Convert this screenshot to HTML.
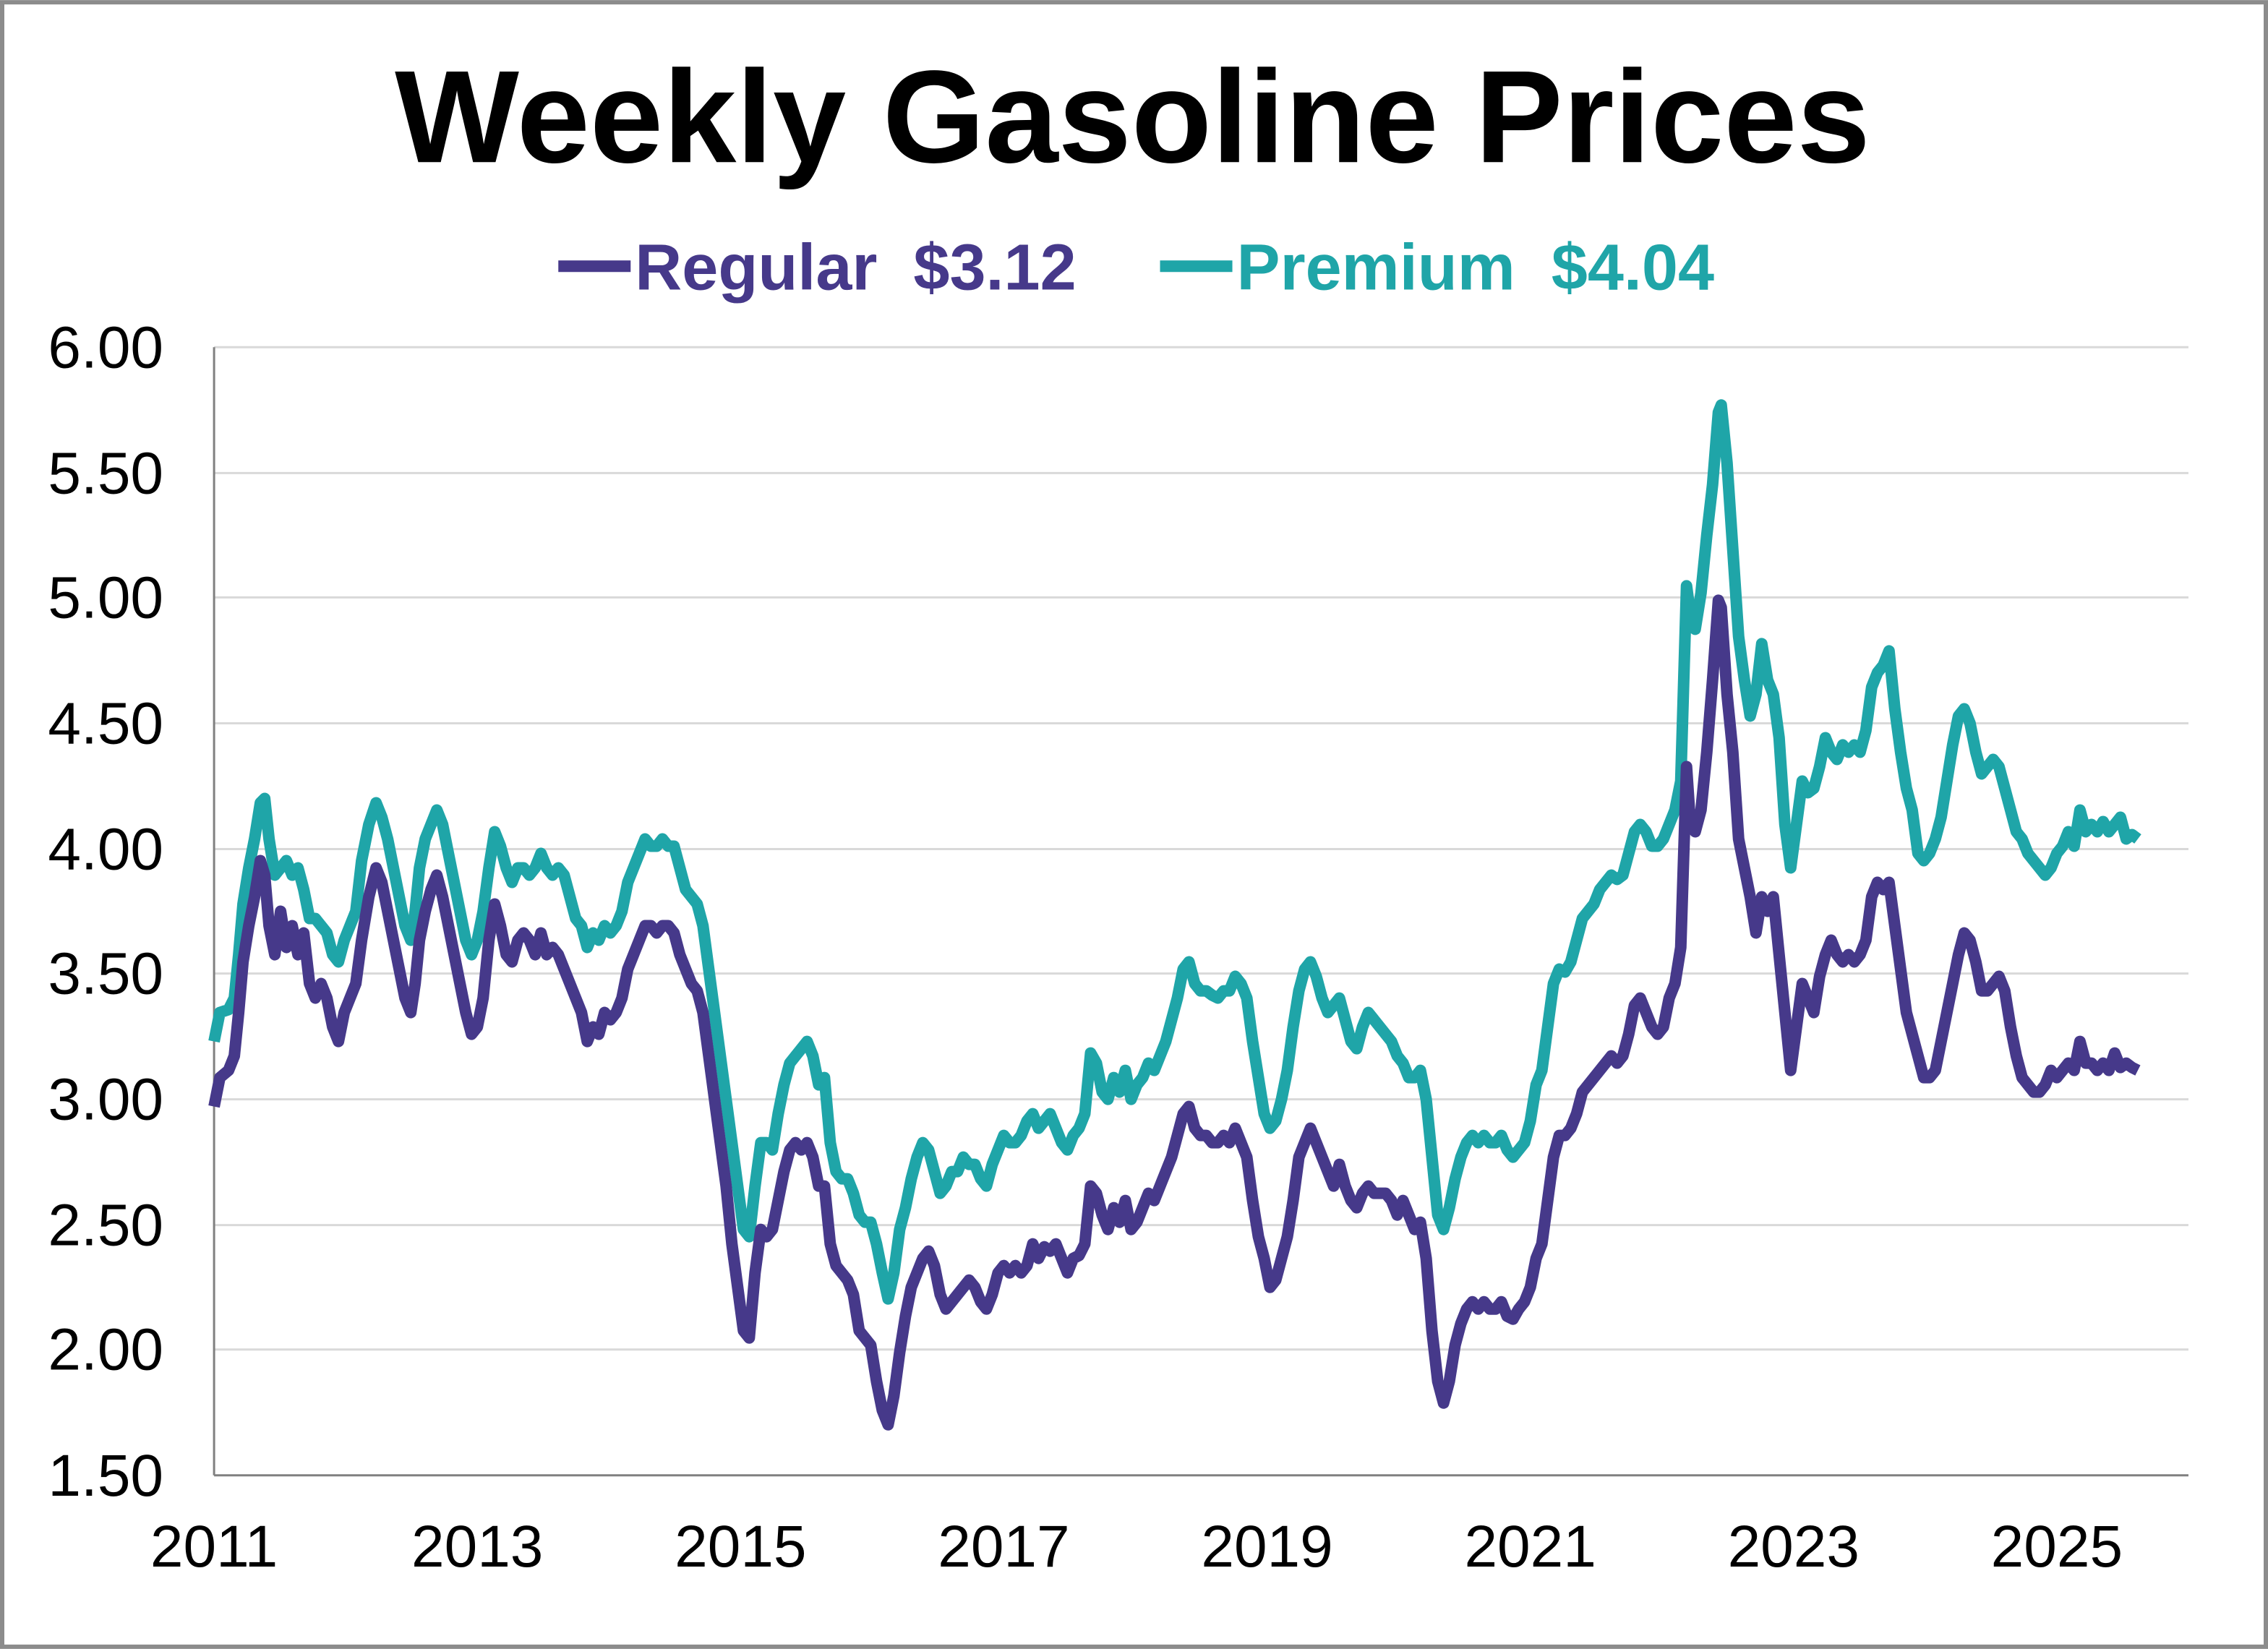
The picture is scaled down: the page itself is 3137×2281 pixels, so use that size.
<!DOCTYPE html>
<html><head><meta charset="utf-8"><style>html,body{margin:0;padding:0;background:#fff}svg{display:block}</style></head>
<body>
<svg width="3137" height="2281" viewBox="0 0 1568 1140" xmlns="http://www.w3.org/2000/svg" font-family="'Liberation Sans', sans-serif">
<rect x="1.5" y="1.5" width="1565" height="1137" fill="#fff" stroke="#8c8c8c" stroke-width="3"/>
<text x="783" y="112" text-anchor="middle" font-size="91" font-weight="bold" fill="#000">Weekly Gasoline Prices</text>
<line x1="386" y1="184" x2="436" y2="184" stroke="#46398a" stroke-width="8"/>
<text x="439" y="200" font-size="45" font-weight="bold" fill="#46398a" xml:space="preserve">Regular  $3.12</text>
<line x1="802" y1="184" x2="852" y2="184" stroke="#1fa5a8" stroke-width="8"/>
<text x="855" y="200" font-size="45" font-weight="bold" fill="#1fa5a8" xml:space="preserve">Premium  $4.04</text>
<g stroke="#d9d9d9" stroke-width="1.5">
<line x1="148" y1="240" x2="1513" y2="240"/><line x1="148" y1="327" x2="1513" y2="327"/><line x1="148" y1="413" x2="1513" y2="413"/><line x1="148" y1="500" x2="1513" y2="500"/><line x1="148" y1="587" x2="1513" y2="587"/><line x1="148" y1="673" x2="1513" y2="673"/><line x1="148" y1="760" x2="1513" y2="760"/><line x1="148" y1="847" x2="1513" y2="847"/><line x1="148" y1="933" x2="1513" y2="933"/>
</g>
<line x1="148" y1="240" x2="148" y2="1020" stroke="#808080" stroke-width="1.5"/>
<line x1="148" y1="1020" x2="1513" y2="1020" stroke="#808080" stroke-width="1.5"/>
<g font-size="41" fill="#000" text-anchor="end">
<text x="113" y="254">6.00</text><text x="113" y="341">5.50</text><text x="113" y="427">5.00</text><text x="113" y="514">4.50</text><text x="113" y="601">4.00</text><text x="113" y="687">3.50</text><text x="113" y="774">3.00</text><text x="113" y="861">2.50</text><text x="113" y="947">2.00</text><text x="113" y="1034">1.50</text>
</g>
<g font-size="41" fill="#000" text-anchor="middle">
<text x="148" y="1083">2011</text><text x="330" y="1083">2013</text><text x="512" y="1083">2015</text><text x="694" y="1083">2017</text><text x="876" y="1083">2019</text><text x="1058" y="1083">2021</text><text x="1240" y="1083">2023</text><text x="1422" y="1083">2025</text>
</g>
<polyline fill="none" stroke="#1fa5a8" stroke-width="8" stroke-linejoin="round" points="148,720 152,700 158,698 162,690 165,660 168,625 172,600 176,580 180,555 183,552 186,580 190,605 194,600 198,595 202,605 206,600 210,615 214,635 218,635 222,640 226,645 230,660 234,665 238,650 242,640 246,630 250,595 255,570 260,555 264,565 268,580 272,600 276,620 280,640 284,650 287,630 290,600 294,580 298,570 302,560 306,570 310,590 314,610 318,630 322,650 326,660 330,650 334,630 338,600 342,575 346,585 350,600 354,610 358,600 362,600 366,605 370,600 374,590 378,600 382,605 386,600 390,605 394,620 398,635 402,640 406,655 410,645 414,650 418,640 422,645 426,640 430,630 434,610 438,600 442,590 446,580 450,585 454,585 458,580 462,585 466,585 470,600 474,615 478,620 482,625 486,640 490,670 494,700 498,730 502,760 506,790 510,820 514,850 518,855 522,820 526,790 530,790 534,795 538,770 542,750 546,735 550,730 554,725 558,720 562,730 566,750 570,745 574,790 578,810 582,815 586,815 590,825 594,840 598,845 602,845 606,860 610,880 614,898 618,880 622,850 626,835 630,815 634,800 638,790 642,795 646,810 650,825 654,820 658,810 662,810 666,800 670,805 674,805 678,815 682,820 686,805 690,795 694,785 698,790 702,790 706,785 710,775 714,770 718,780 722,775 726,770 730,780 734,790 738,795 742,785 746,780 750,770 754,728 758,735 762,755 766,760 770,745 774,755 778,740 782,760 786,750 790,745 794,735 798,740 802,730 806,720 810,705 814,690 818,670 822,665 826,680 830,685 834,685 838,688 842,690 846,685 850,685 854,675 858,680 862,690 866,720 870,745 874,770 878,780 882,775 886,760 890,740 894,710 898,685 902,670 906,665 910,675 914,690 918,700 922,695 926,690 930,705 934,720 938,725 942,710 946,700 950,705 954,710 958,715 962,720 966,730 970,735 974,745 978,745 982,740 986,760 990,800 994,840 998,850 1002,835 1006,815 1010,800 1014,790 1018,785 1022,790 1026,785 1030,790 1034,790 1038,785 1042,795 1046,800 1050,795 1054,790 1058,775 1062,750 1066,740 1070,710 1074,680 1078,670 1082,672 1086,665 1090,650 1094,635 1098,630 1102,625 1106,615 1110,610 1114,605 1118,608 1122,605 1126,590 1130,575 1134,570 1138,575 1142,585 1146,585 1150,580 1154,570 1158,560 1162,540 1166,405 1168,420 1172,435 1176,410 1180,370 1184,335 1188,285 1190,280 1194,320 1198,380 1202,440 1206,470 1210,495 1214,480 1218,445 1222,470 1226,480 1230,510 1234,570 1238,600 1242,570 1246,540 1250,548 1254,545 1258,530 1262,510 1266,520 1270,525 1274,515 1278,520 1282,515 1286,520 1290,505 1294,475 1298,465 1302,460 1306,450 1310,490 1314,520 1318,545 1322,560 1326,590 1330,595 1334,590 1338,580 1342,565 1346,540 1350,515 1354,495 1358,490 1362,500 1366,520 1370,535 1374,530 1378,525 1382,530 1386,545 1390,560 1394,575 1398,580 1402,590 1406,595 1410,600 1414,605 1418,600 1422,590 1426,585 1430,575 1434,585 1438,560 1442,575 1446,570 1450,575 1454,568 1458,575 1462,570 1466,565 1470,580 1474,577 1478,580"/>
<polyline fill="none" stroke="#46398a" stroke-width="8" stroke-linejoin="round" points="148,765 152,745 158,740 162,730 165,700 168,665 172,640 176,620 180,595 183,605 186,640 190,660 194,630 198,655 202,640 206,660 210,645 214,680 218,690 222,680 226,690 230,710 234,720 238,700 242,690 246,680 250,650 255,620 260,600 264,610 268,630 272,650 276,670 280,690 284,700 287,680 290,650 294,630 298,615 302,605 306,620 310,640 314,660 318,680 322,700 326,715 330,710 334,690 338,650 342,625 346,640 350,660 354,665 358,650 362,645 366,650 370,660 374,645 378,660 382,655 386,660 390,670 394,680 398,690 402,700 406,720 410,710 414,715 418,700 422,705 426,700 430,690 434,670 438,660 442,650 446,640 450,640 454,645 458,640 462,640 466,645 470,660 474,670 478,680 482,685 486,700 490,730 494,760 498,790 502,820 506,860 510,890 514,920 518,925 522,880 526,850 530,855 534,850 538,830 542,810 546,795 550,790 554,795 558,790 562,800 566,820 570,820 574,860 578,875 582,880 586,885 590,895 594,920 598,925 602,930 606,955 610,975 614,985 618,965 622,935 626,910 630,890 634,880 638,870 642,865 646,875 650,895 654,905 658,900 662,895 666,890 670,885 674,890 678,900 682,905 686,895 690,880 694,875 698,880 702,875 706,880 710,875 714,860 718,870 722,862 726,865 730,860 734,870 738,880 742,870 746,868 750,860 754,820 758,825 762,840 766,850 770,835 774,845 778,830 782,850 786,845 790,835 794,825 798,830 802,820 806,810 810,800 814,785 818,770 822,765 826,780 830,785 834,785 838,790 842,790 846,785 850,790 854,780 858,790 862,800 866,830 870,855 874,870 878,890 882,885 886,870 890,855 894,830 898,800 902,790 906,780 910,790 914,800 918,810 922,820 926,805 930,820 934,830 938,835 942,825 946,820 950,825 954,825 958,825 962,830 966,840 970,830 974,840 978,850 982,845 986,870 990,920 994,955 998,970 1002,955 1006,930 1010,915 1014,905 1018,900 1022,905 1026,900 1030,905 1034,905 1038,900 1042,910 1046,912 1050,905 1054,900 1058,890 1062,870 1066,860 1070,830 1074,800 1078,785 1082,785 1086,780 1090,770 1094,755 1098,750 1102,745 1106,740 1110,735 1114,730 1118,735 1122,730 1126,715 1130,695 1134,690 1138,700 1142,710 1146,715 1150,710 1154,690 1158,680 1162,655 1166,530 1168,560 1172,575 1176,560 1180,520 1184,470 1188,415 1190,420 1194,480 1198,520 1202,580 1206,600 1210,620 1214,645 1218,620 1222,630 1226,620 1230,660 1234,700 1238,740 1242,710 1246,680 1250,690 1254,700 1258,675 1262,660 1266,650 1270,660 1274,665 1278,660 1282,665 1286,660 1290,650 1294,620 1298,610 1302,615 1306,610 1310,640 1314,670 1318,700 1322,715 1326,730 1330,745 1334,745 1338,740 1342,720 1346,700 1350,680 1354,660 1358,645 1362,650 1366,665 1370,685 1374,685 1378,680 1382,675 1386,685 1390,710 1394,730 1398,745 1402,750 1406,755 1410,755 1414,750 1418,740 1422,745 1426,740 1430,735 1434,740 1438,720 1442,735 1446,735 1450,740 1454,735 1458,740 1462,728 1466,738 1470,735 1474,738 1478,740"/>
</svg>
</body></html>
